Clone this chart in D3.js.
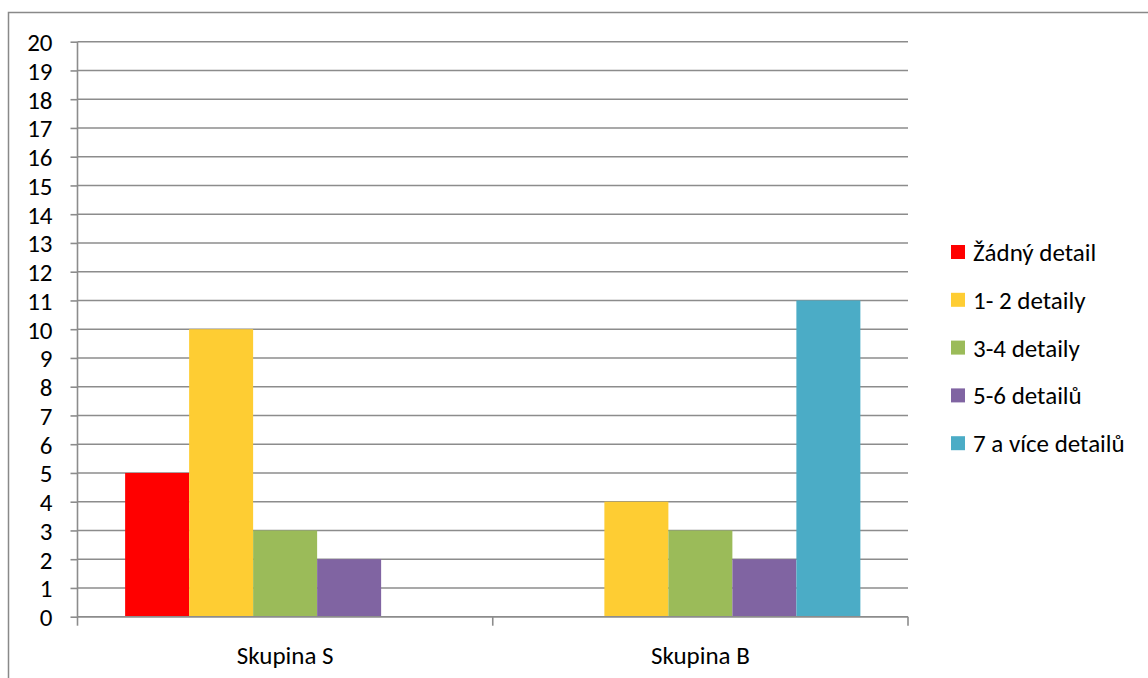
<!DOCTYPE html>
<html>
<head>
<meta charset="utf-8">
<script src="https://cdn.jsdelivr.net/npm/d3@7"></script>
<style>
  body { margin: 0; background: #fff; }
  svg text { font-family: Carlito, Calibri, Lato, sans-serif; fill: #000; }
</style>
</head>
<body>
<svg width="1148" height="678"></svg>
<script>
// chart data
const categories = ["Skupina S", "Skupina B"];
const seriesNames = ["Žádný detail", "1- 2 detaily", "3-4 detaily", "5-6 detailů", "7 a více detailů"];
const zadnyDetail = [5, 0];
const jedenDvaDetaily = [10, 4];
const triCtyriDetaily = [3, 3];
const petSestDetailu = [2, 2];
const sedmAViceDetailu = [0, 11];
const yTicks = d3.range(0, 21);
const seriesColors = ["#FF0000", "#FECD33", "#9BBB59", "#8064A2", "#4BACC6"];

const seriesValues = [zadnyDetail, jedenDvaDetaily, triCtyriDetaily, petSestDetailu, sedmAViceDetailu];

document.addEventListener("DOMContentLoaded", function () {
  const svg = d3.select("svg");
  const margin = { top: 41.7, left: 77.5 };
  const width = 908 - margin.left;
  const height = 616.7 - margin.top;

  // outer chart border (right and bottom edges fall outside the picture)
  svg.append("rect")
    .attr("x", 8.5).attr("y", 12.5)
    .attr("width", 1200).attr("height", 700)
    .attr("fill", "none")
    .attr("stroke", "#898989")
    .attr("stroke-width", 1.5);

  const g = svg.append("g")
    .attr("transform", `translate(${margin.left},${margin.top})`);

  const x0 = d3.scaleBand().domain(categories).range([0, width]).padding(0);
  const groupPad = (x0.bandwidth() - 320) / 2;
  const x1 = d3.scaleBand()
    .domain(seriesNames)
    .range([groupPad, x0.bandwidth() - groupPad])
    .padding(0);
  const y = d3.scaleLinear().domain([0, 20]).range([height, 0]);

  // gridlines
  g.append("g")
    .selectAll("line")
    .data(yTicks)
    .join("line")
    .attr("x1", 0).attr("x2", width)
    .attr("y1", d => y(d)).attr("y2", d => y(d))
    .attr("stroke", "#8c8c8c")
    .attr("stroke-width", 1.6);

  // y axis
  const yAxis = g.append("g")
    .call(d3.axisLeft(y).tickValues(yTicks).tickSize(7).tickPadding(18));
  yAxis.select(".domain").attr("stroke", "#8c8c8c").attr("stroke-width", 1.6)
    .attr("d", `M0,${height}V0`);
  yAxis.selectAll(".tick line").attr("stroke", "#8c8c8c").attr("stroke-width", 1.6);
  yAxis.selectAll(".tick text").style("font-size", "25px").attr("dy", "0.36em");

  // bars
  const bars = g.append("g");
  seriesNames.forEach((name, i) => {
    bars.selectAll(".bar-" + i)
      .data(categories.map((c, j) => ({ cat: c, value: seriesValues[i][j] })))
      .join("rect")
      .attr("class", "bar-" + i)
      .attr("x", d => x0(d.cat) + x1(name))
      .attr("width", x1.bandwidth())
      .attr("y", d => y(d.value))
      .attr("height", d => height - y(d.value))
      .attr("fill", seriesColors[i]);
  });

  // x axis
  const xAxisG = g.append("g").attr("transform", `translate(0,${height})`);
  xAxisG.append("line")
    .attr("x1", 0).attr("x2", width)
    .attr("y1", 0).attr("y2", 0)
    .attr("stroke", "#8c8c8c").attr("stroke-width", 1.6);
  const boundaries = categories.map(c => x0(c)).concat([width]);
  xAxisG.selectAll(".xtick")
    .data(boundaries)
    .join("line")
    .attr("class", "xtick")
    .attr("x1", d => d).attr("x2", d => d)
    .attr("y1", 0).attr("y2", 9)
    .attr("stroke", "#8c8c8c").attr("stroke-width", 1.6);
  xAxisG.selectAll(".xlabel")
    .data(categories)
    .join("text")
    .attr("class", "xlabel")
    .attr("x", d => x0(d) + x0.bandwidth() / 2)
    .attr("y", 38)
    .attr("dy", "0.36em")
    .attr("text-anchor", "middle")
    .style("font-size", "25px")
    .text(d => d);

  // legend
  const legend = svg.append("g").attr("transform", "translate(951,252)");
  const rows = legend.selectAll("g")
    .data(seriesNames)
    .join("g")
    .attr("transform", (d, i) => `translate(0,${i * 47.8})`);
  rows.append("rect")
    .attr("x", 0).attr("y", -7)
    .attr("width", 14).attr("height", 14)
    .attr("fill", (d, i) => seriesColors[i]);
  rows.append("text")
    .attr("x", 22).attr("y", 0)
    .attr("dy", "0.36em")
    .style("font-size", "25px")
    .text(d => d);
});
</script>
</body>
</html>
